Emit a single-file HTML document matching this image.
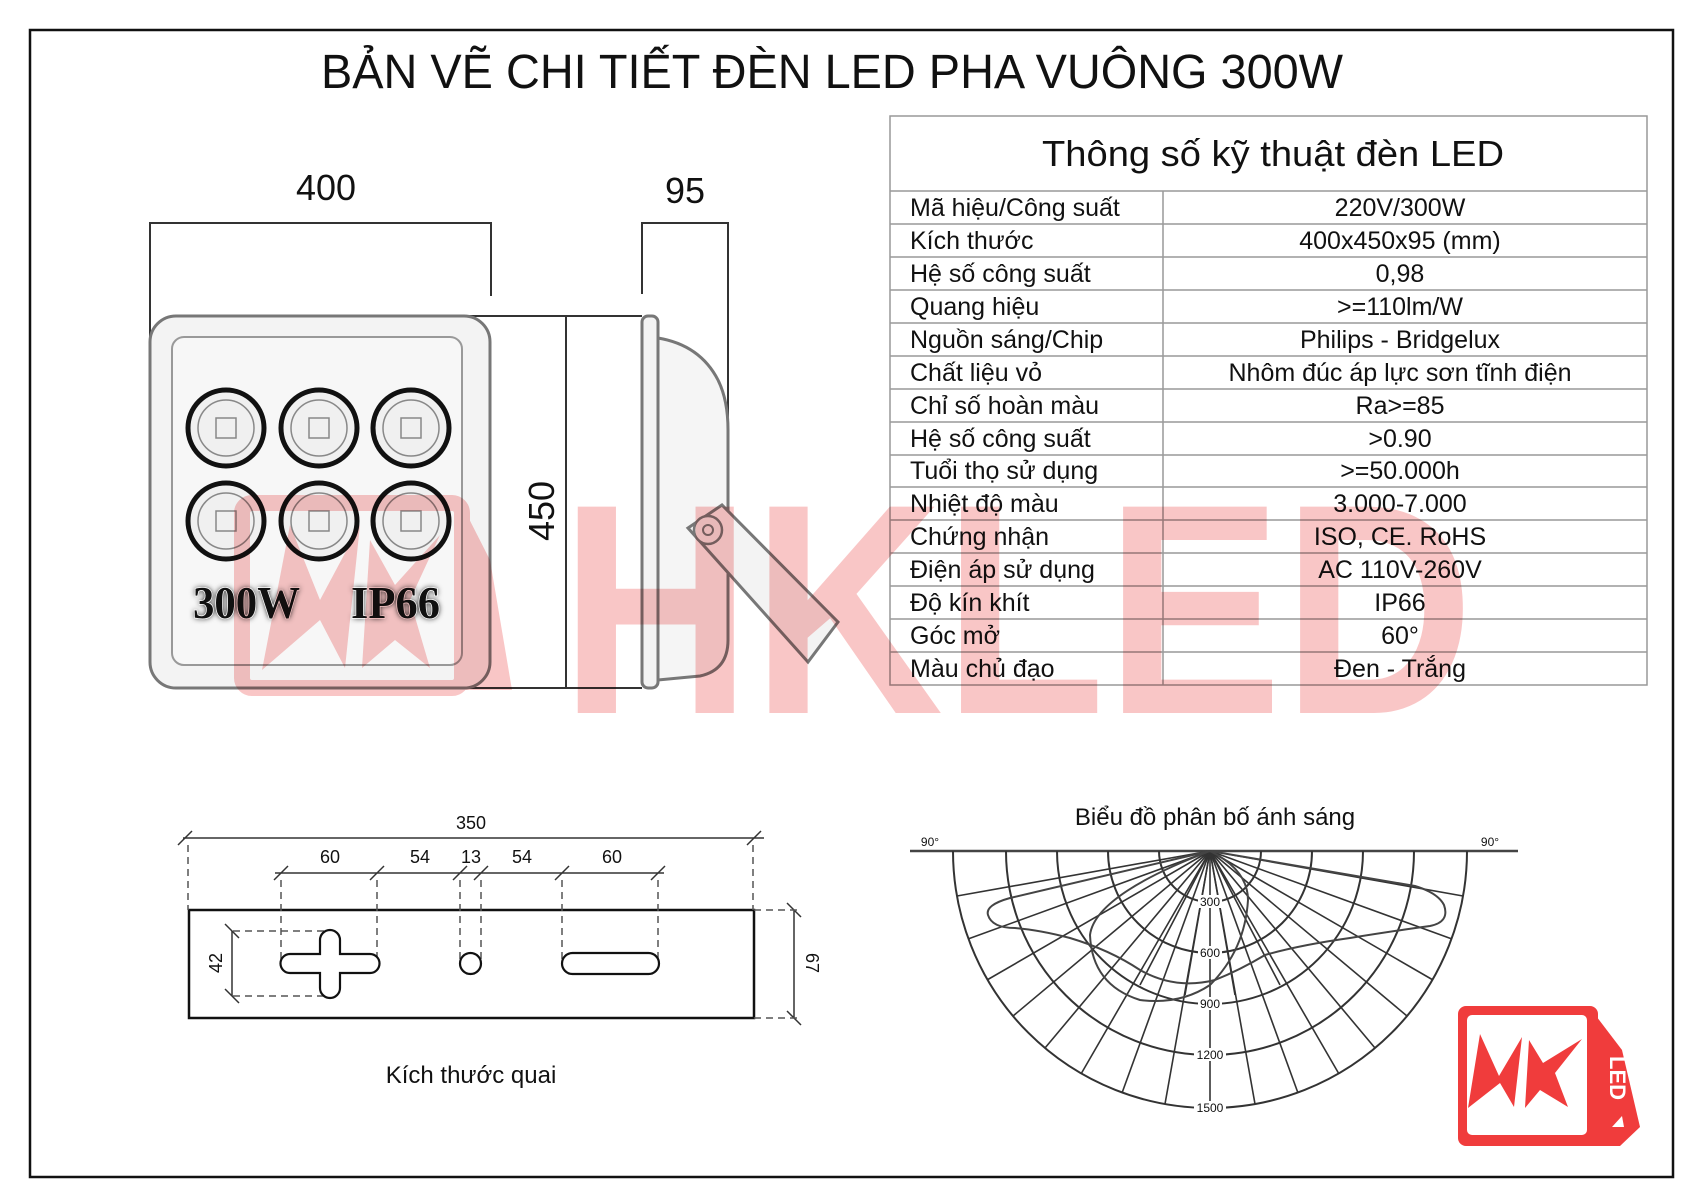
<!DOCTYPE html>
<html><head><meta charset="utf-8"><style>
html,body{margin:0;padding:0;background:#fff}
svg{display:block}
text{font-family:"Liberation Sans",sans-serif;fill:#111}
</style></head><body>
<svg width="1697" height="1200" viewBox="0 0 1697 1200" xmlns="http://www.w3.org/2000/svg">
<defs>
<filter id="sh" x="-20%" y="-30%" width="140%" height="160%"><feGaussianBlur stdDeviation="3"/></filter>
</defs>
<rect x="30" y="30" width="1643" height="1147" fill="#fff" stroke="#111" stroke-width="2.5"/>
<text x="832" y="88" font-size="48" text-anchor="middle" textLength="1022" lengthAdjust="spacingAndGlyphs">BẢN VẼ CHI TIẾT ĐÈN LED PHA VUÔNG 300W</text>

<!-- dims top -->
<g stroke="#333" stroke-width="2" fill="none">
<polyline points="150,337 150,223 491,223 491,296"/>
<polyline points="642,294 642,223 728,223 728,427"/>
<line x1="462" y1="316" x2="642" y2="316"/>
<line x1="462" y1="688" x2="642" y2="688"/>
<line x1="566" y1="316" x2="566" y2="688"/>
</g>
<text x="326" y="200" font-size="36" text-anchor="middle" textLength="60" lengthAdjust="spacingAndGlyphs">400</text>
<text x="685" y="203" font-size="36" text-anchor="middle" textLength="40" lengthAdjust="spacingAndGlyphs">95</text>
<text transform="translate(554,511) rotate(-90)" font-size="36" text-anchor="middle" textLength="60" lengthAdjust="spacingAndGlyphs">450</text>

<!-- lamp front -->
<rect x="150" y="316" width="340" height="372" rx="26" fill="#f3f3f3" stroke="#777" stroke-width="3"/>
<rect x="172" y="337" width="290" height="328" rx="12" fill="#f7f7f7" stroke="#999" stroke-width="2"/>
<g>
<g stroke="#111" stroke-width="5" fill="#f0f0f0">
<circle cx="226" cy="428" r="38"/><circle cx="319" cy="428" r="38"/><circle cx="411" cy="428" r="38"/>
<circle cx="226" cy="521" r="38"/><circle cx="319" cy="521" r="38"/><circle cx="411" cy="521" r="38"/>
</g>
<g stroke="#888" stroke-width="1.5" fill="none">
<circle cx="226" cy="428" r="28"/><circle cx="319" cy="428" r="28"/><circle cx="411" cy="428" r="28"/>
<circle cx="226" cy="521" r="28"/><circle cx="319" cy="521" r="28"/><circle cx="411" cy="521" r="28"/>
<rect x="216" y="418" width="20" height="20"/><rect x="309" y="418" width="20" height="20"/><rect x="401" y="418" width="20" height="20"/>
<rect x="216" y="511" width="20" height="20"/><rect x="309" y="511" width="20" height="20"/><rect x="401" y="511" width="20" height="20"/>
</g>
</g>
<g font-size="46">
<text x="193" y="618" style="font-family:'Liberation Serif',serif;fill:#000;font-weight:bold" filter="url(#sh)" textLength="107" lengthAdjust="spacingAndGlyphs">300W</text>
<text x="351" y="618" style="font-family:'Liberation Serif',serif;fill:#000;font-weight:bold" filter="url(#sh)" textLength="89" lengthAdjust="spacingAndGlyphs">IP66</text>
<text x="193" y="618" style="font-family:'Liberation Serif',serif;fill:#111;font-weight:bold;stroke:#fff;stroke-width:1.5;paint-order:stroke" textLength="107" lengthAdjust="spacingAndGlyphs">300W</text>
<text x="351" y="618" style="font-family:'Liberation Serif',serif;fill:#111;font-weight:bold;stroke:#fff;stroke-width:1.5;paint-order:stroke" textLength="89" lengthAdjust="spacingAndGlyphs">IP66</text>
</g>

<!-- lamp side -->
<path d="M658,338 Q700,345 718,380 Q728,400 728,430 L728,640 Q728,670 700,676 L658,680 Z" fill="#f5f5f5" stroke="#777" stroke-width="3"/>
<rect x="642" y="316" width="16" height="372" rx="6" fill="#f3f3f3" stroke="#777" stroke-width="3"/>
<polygon points="688,528 722,505 838,622 808,662" fill="#f3f3f3" stroke="#777" stroke-width="3"/>
<circle cx="708" cy="530" r="14" fill="#eee" stroke="#777" stroke-width="2.5"/>
<circle cx="708" cy="530" r="5" fill="none" stroke="#777" stroke-width="2"/>

<!-- table -->
<g stroke="#999" stroke-width="1.5" fill="none">
<rect x="890" y="116" width="757" height="569"/>
<line x1="1163" y1="191" x2="1163" y2="685"/>
</g>
<g stroke="#999" stroke-width="1.5">
<line x1="890" y1="191" x2="1647" y2="191"/><line x1="890" y1="224" x2="1647" y2="224"/><line x1="890" y1="257" x2="1647" y2="257"/><line x1="890" y1="290" x2="1647" y2="290"/><line x1="890" y1="323" x2="1647" y2="323"/><line x1="890" y1="356" x2="1647" y2="356"/><line x1="890" y1="389" x2="1647" y2="389"/><line x1="890" y1="422" x2="1647" y2="422"/><line x1="890" y1="455" x2="1647" y2="455"/><line x1="890" y1="487" x2="1647" y2="487"/><line x1="890" y1="520" x2="1647" y2="520"/><line x1="890" y1="553" x2="1647" y2="553"/><line x1="890" y1="586" x2="1647" y2="586"/><line x1="890" y1="619" x2="1647" y2="619"/><line x1="890" y1="652" x2="1647" y2="652"/>
</g>
<text x="1273" y="166" font-size="36" text-anchor="middle" textLength="462" lengthAdjust="spacingAndGlyphs">Thông số kỹ thuật đèn LED</text>
<g font-size="25">
<text x="910" y="216">Mã hiệu/Công suất</text><text x="1400" y="216" text-anchor="middle">220V/300W</text>
<text x="910" y="249">Kích thước</text><text x="1400" y="249" text-anchor="middle">400x450x95 (mm)</text>
<text x="910" y="282">Hệ số công suất</text><text x="1400" y="282" text-anchor="middle">0,98</text>
<text x="910" y="315">Quang hiệu</text><text x="1400" y="315" text-anchor="middle">&gt;=110lm/W</text>
<text x="910" y="348">Nguồn sáng/Chip</text><text x="1400" y="348" text-anchor="middle">Philips - Bridgelux</text>
<text x="910" y="381">Chất liệu vỏ</text><text x="1400" y="381" text-anchor="middle">Nhôm đúc áp lực sơn tĩnh điện</text>
<text x="910" y="414">Chỉ số hoàn màu</text><text x="1400" y="414" text-anchor="middle">Ra&gt;=85</text>
<text x="910" y="447">Hệ số công suất</text><text x="1400" y="447" text-anchor="middle">&gt;0.90</text>
<text x="910" y="479">Tuổi thọ sử dụng</text><text x="1400" y="479" text-anchor="middle">&gt;=50.000h</text>
<text x="910" y="512">Nhiệt độ màu</text><text x="1400" y="512" text-anchor="middle">3.000-7.000</text>
<text x="910" y="545">Chứng nhận</text><text x="1400" y="545" text-anchor="middle">ISO, CE. RoHS</text>
<text x="910" y="578">Điện áp sử dụng</text><text x="1400" y="578" text-anchor="middle">AC 110V-260V</text>
<text x="910" y="611">Độ kín khít</text><text x="1400" y="611" text-anchor="middle">IP66</text>
<text x="910" y="644">Góc mở</text><text x="1400" y="644" text-anchor="middle">60°</text>
<text x="910" y="677">Màu chủ đạo</text><text x="1400" y="677" text-anchor="middle">Đen - Trắng</text>
</g>

<!-- bracket drawing -->
<rect x="189" y="910" width="565" height="108" fill="none" stroke="#111" stroke-width="2.5"/>
<g stroke="#333" stroke-width="1.5" fill="none">
<line x1="183" y1="838" x2="764" y2="838"/>
<line x1="275" y1="873" x2="664" y2="873"/>
<line x1="232" y1="931" x2="232" y2="996"/>
<line x1="794" y1="910" x2="794" y2="1018"/>
<g>
<line x1="178" y1="845" x2="192" y2="831"/><line x1="747" y1="845" x2="761" y2="831"/>
<line x1="274" y1="880" x2="288" y2="866"/><line x1="370" y1="880" x2="384" y2="866"/><line x1="453" y1="880" x2="467" y2="866"/><line x1="474" y1="880" x2="488" y2="866"/><line x1="555" y1="880" x2="569" y2="866"/><line x1="651" y1="880" x2="665" y2="866"/>
<line x1="225" y1="924" x2="239" y2="938"/><line x1="225" y1="989" x2="239" y2="1003"/>
<line x1="787" y1="903" x2="801" y2="917"/><line x1="787" y1="1011" x2="801" y2="1025"/>
</g>
<g stroke-dasharray="7,5" stroke="#555">
<line x1="188" y1="845" x2="188" y2="910"/><line x1="753" y1="845" x2="753" y2="910"/>
<line x1="281" y1="880" x2="281" y2="963"/><line x1="377" y1="880" x2="377" y2="963"/>
<line x1="460" y1="880" x2="460" y2="963"/><line x1="481" y1="880" x2="481" y2="963"/>
<line x1="562" y1="880" x2="562" y2="963"/><line x1="658" y1="880" x2="658" y2="963"/>
<line x1="233" y1="931" x2="330" y2="931"/><line x1="233" y1="996" x2="330" y2="996"/>
<line x1="754" y1="910" x2="797" y2="910"/><line x1="754" y1="1018" x2="797" y2="1018"/>
</g>
</g>
<g stroke="#111" stroke-width="2.2" fill="#fff">
<path d="M320,940 a10,10 0 0 1 20,0 v14 h30 a9,9 0 0 1 0,19 h-30 v15 a10,10 0 0 1 -20,0 v-15 h-30 a9,9 0 0 1 0,-19 h30 z"/>
<rect x="460" y="953" width="21" height="21" rx="10.5"/>
<rect x="562" y="953" width="97" height="21" rx="10.5"/>
</g>
<g font-size="18">
<text x="471" y="829" text-anchor="middle">350</text>
<text x="330" y="863" text-anchor="middle">60</text>
<text x="420" y="863" text-anchor="middle">54</text>
<text x="471" y="863" text-anchor="middle">13</text>
<text x="522" y="863" text-anchor="middle">54</text>
<text x="612" y="863" text-anchor="middle">60</text>
<text transform="translate(222,963) rotate(-90)" text-anchor="middle">42</text>
<text transform="translate(806,963) rotate(90)" text-anchor="middle">67</text>
</g>
<text x="471" y="1083" font-size="24" text-anchor="middle">Kích thước quai</text>

<!-- polar chart -->
<text x="1215" y="825" font-size="24" text-anchor="middle">Biểu đồ phân bố ánh sáng</text>
<text x="930" y="846" font-size="12" text-anchor="middle">90°</text>
<text x="1490" y="846" font-size="12" text-anchor="middle">90°</text>
<line x1="910" y1="851" x2="1518" y2="851" stroke="#444" stroke-width="2.5"/>
<g stroke="#333" stroke-width="2" fill="none">
<path d="M1159,851 A51,51 0 0 0 1261,851"/>
<path d="M1108,851 A102,102 0 0 0 1312,851"/>
<path d="M1057,851 A153,153 0 0 0 1363,851"/>
<path d="M1006,851 A204,204 0 0 0 1414,851"/>
<path d="M953,851 A257,257 0 0 0 1467,851"/>
</g>
<g stroke="#333" stroke-width="1.6">
<line x1="1210" y1="851" x2="957" y2="896"/>
<line x1="1210" y1="851" x2="968" y2="939"/>
<line x1="1210" y1="851" x2="987" y2="980"/>
<line x1="1210" y1="851" x2="1013" y2="1016"/>
<line x1="1210" y1="851" x2="1045" y2="1048"/>
<line x1="1210" y1="851" x2="1081" y2="1074"/>
<line x1="1210" y1="851" x2="1122" y2="1093"/>
<line x1="1210" y1="851" x2="1165" y2="1104"/>
<line x1="1210" y1="851" x2="1210" y2="1108"/>
<line x1="1210" y1="851" x2="1255" y2="1104"/>
<line x1="1210" y1="851" x2="1298" y2="1093"/>
<line x1="1210" y1="851" x2="1339" y2="1074"/>
<line x1="1210" y1="851" x2="1375" y2="1048"/>
<line x1="1210" y1="851" x2="1407" y2="1016"/>
<line x1="1210" y1="851" x2="1433" y2="980"/>
<line x1="1210" y1="851" x2="1452" y2="939"/>
<line x1="1210" y1="851" x2="1463" y2="896"/>
<line x1="1210" y1="851" x2="1185" y2="995"/>
<line x1="1210" y1="851" x2="1235" y2="995"/>
<line x1="1210" y1="851" x2="1140" y2="985"/>
<line x1="1210" y1="851" x2="1280" y2="985"/>
</g>
<g stroke="#444" stroke-width="2" fill="none">
<path d="M1210,851 L1010,898 Q985,905 988,915 Q992,928 1015,928 Q1040,930 1070,938 Q1110,950 1140,970 Q1175,990 1215,980 Q1240,970 1265,955 Q1300,945 1350,938 Q1400,930 1430,926 Q1450,922 1444,905 Q1438,893 1415,886 Z"/>
<path d="M1210,851 Q1095,895 1090,935 Q1092,985 1140,1000 Q1180,1005 1210,985 Q1245,950 1248,900 Q1248,870 1210,851"/>
</g>
<g fill="#fff">
<rect x="1198" y="895" width="24" height="13"/><rect x="1198" y="946" width="24" height="13"/><rect x="1198" y="997" width="24" height="13"/><rect x="1194" y="1048" width="32" height="13"/><rect x="1194" y="1101" width="32" height="13"/>
</g>
<g font-size="12" text-anchor="middle">
<text x="1210" y="906">300</text><text x="1210" y="957">600</text><text x="1210" y="1008">900</text><text x="1210" y="1059">1200</text><text x="1210" y="1112">1500</text>
</g>

<!-- watermark -->
<g style="mix-blend-mode:multiply" opacity="0.72">
<text x="560" y="713" font-size="300" textLength="914" lengthAdjust="spacingAndGlyphs" style="fill:#f7b0b0;font-weight:bold">HKLED</text>
<rect x="242" y="503" width="220" height="185" rx="10" fill="none" stroke="#f7b0b0" stroke-width="16"/>
<polygon points="262,670 290,525 320,600 360,525 345,668 320,620" fill="#f7b0b0"/>
<polygon points="362,668 370,540 395,585 440,535 410,600 430,668 395,640" fill="#f7b0b0"/>
<polygon points="462,505 490,560 512,690 462,690" fill="#f7b0b0"/>
</g>

<!-- logo -->
<rect x="1458" y="1006" width="140" height="140" rx="8" fill="#f03c3c"/>
<rect x="1467" y="1015" width="120" height="120" rx="5" fill="#fff"/>
<polygon points="1590,1008 1622,1050 1640,1127 1620,1146 1590,1146" fill="#f03c3c"/>
<polygon points="1468,1108 1480,1034 1499,1076 1522,1037 1514,1107 1500,1083" fill="#f03c3c"/>
<polygon points="1525,1108 1529,1040 1543,1063 1582,1039 1555,1073 1568,1107 1540,1090" fill="#f03c3c"/>
<text transform="translate(1610,1078) rotate(90)" font-size="22" text-anchor="middle" style="fill:#fff;font-weight:bold">LED</text>
<polygon points="1612,1127 1624,1127 1622,1116" fill="#fff"/>
</svg>
</body></html>
